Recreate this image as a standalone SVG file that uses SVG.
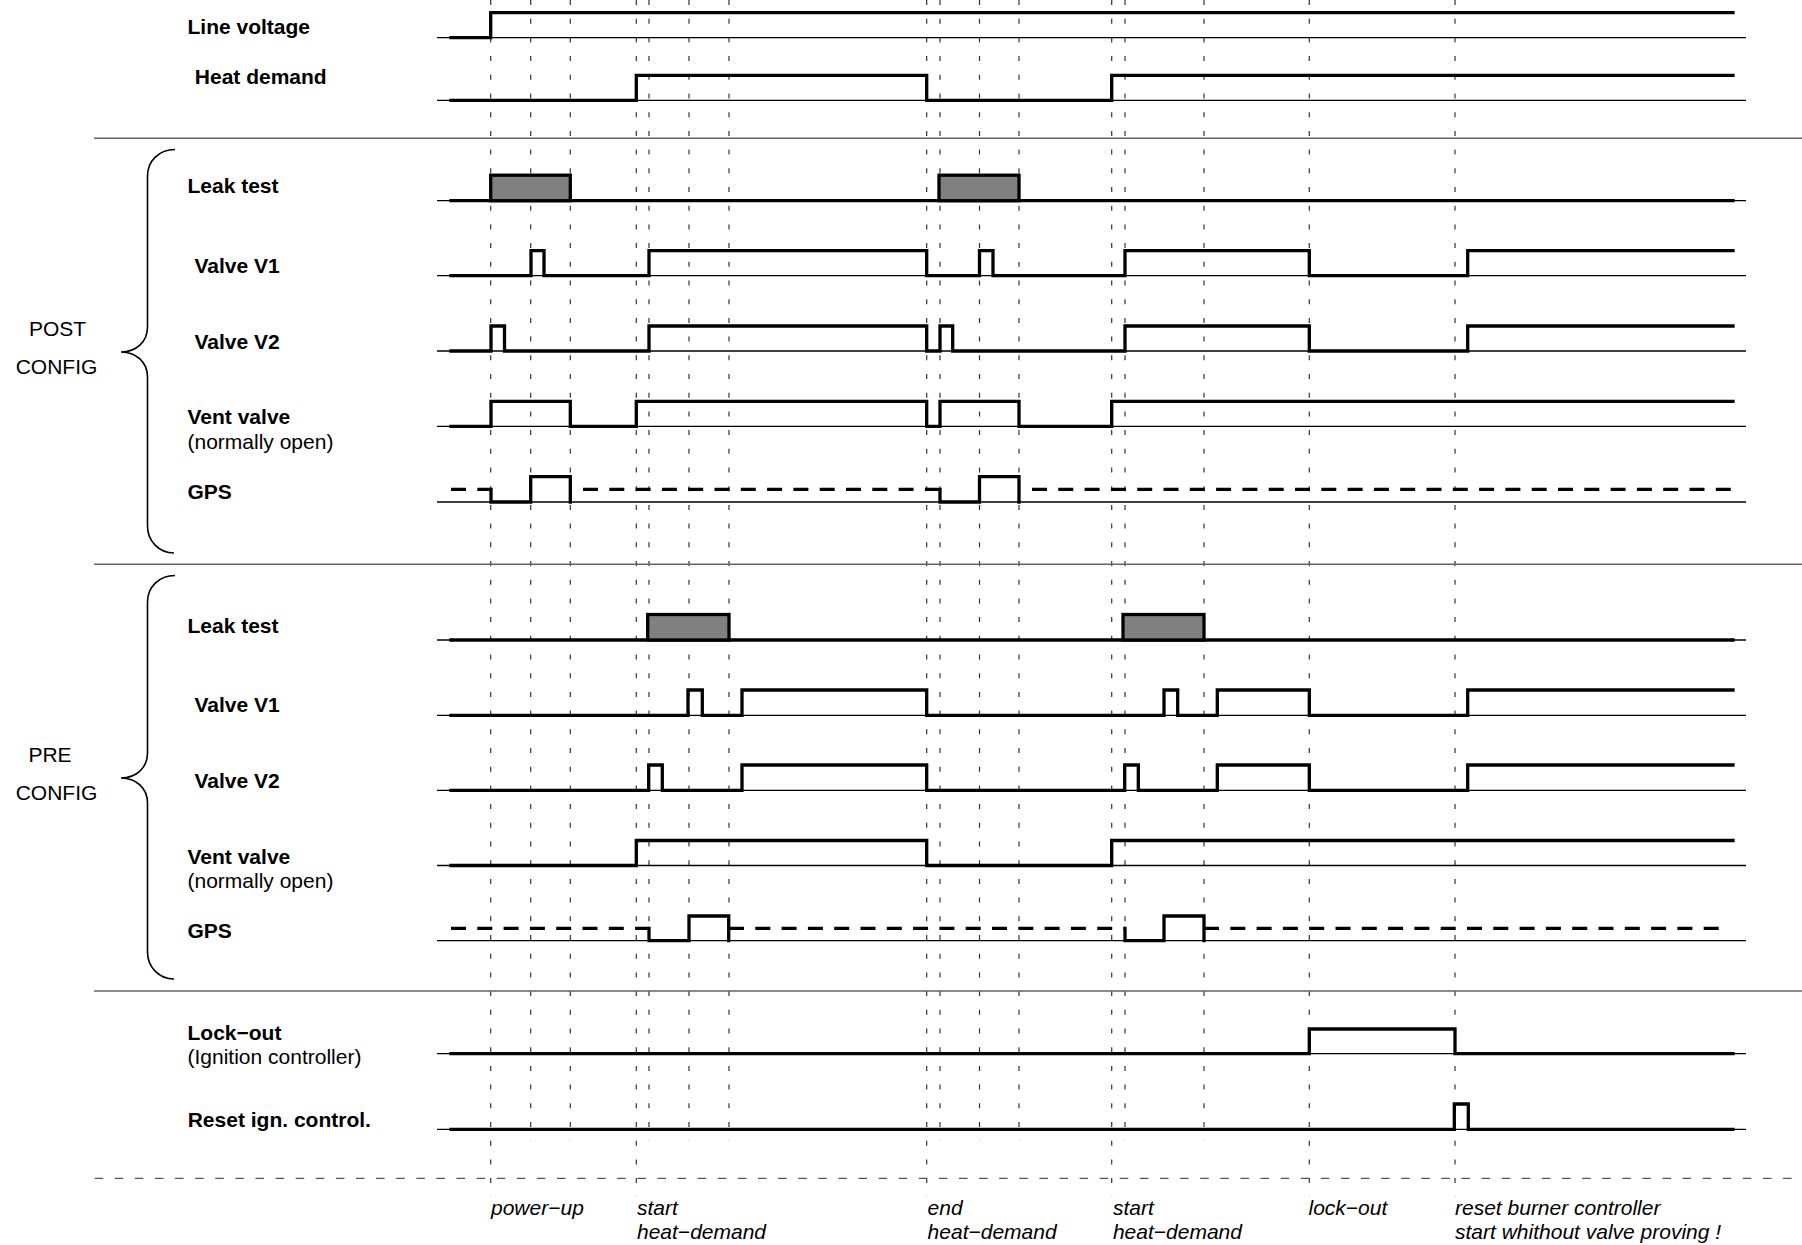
<svg xmlns="http://www.w3.org/2000/svg" width="1802" height="1245" viewBox="0 0 1802 1245">
<style>
text{font-family:"Liberation Sans",Arial,sans-serif;font-size:21px;fill:#000}
.b{font-weight:bold}
.i{font-style:italic}
.sig{fill:none;stroke:#000;stroke-width:3.3;stroke-linejoin:miter;stroke-linecap:square}
.base{fill:none;stroke:#000;stroke-width:1.3}
.undef{fill:none;stroke:#000;stroke-width:3.3;stroke-dasharray:15 11.3}
.leak{fill:#808080;stroke:#000;stroke-width:3.3}
.grid{fill:none;stroke:#333;stroke-width:1.2;stroke-dasharray:5 13.7}
.sep{fill:none;stroke:#666;stroke-width:1.4}
.sepd{fill:none;stroke:#555;stroke-width:1.3;stroke-dasharray:8.5 11.6}
.brace{fill:none;stroke:#000;stroke-width:1.6}
</style>

<g id="connectors">
  <g id="time-markers">
    <path class="grid" d="M490.7,0V1197M636.3,0V1197M926.7,0V1197M1111.7,0V1197M1309.3,0V1197M1455,0V1197"/>
    <path class="grid" d="M530.7,0V1141M570.3,0V1141M649,0V1141M689,0V1141M729,0V1141M940,0V1141M979.5,0V1141M1019,0V1141M1125,0V1141M1204,0V1141"/>
  </g>
  <g id="separators">
    <path class="sep" d="M94,138.3H1802M94,564.3H1802M94,991H1802"/>
    <path class="sepd" d="M94.7,1178.3H1802"/>
  </g>
</g>

<g id="line-voltage">
  <text class="b" x="187.5" y="34.3">Line voltage</text>
  <path class="base" d="M437,37.7H1746"/>
  <path class="sig" d="M451,37.7H490.7V12.7H1733"/>
</g>

<g id="heat-demand">
  <text class="b" x="194.8" y="84">Heat demand</text>
  <path class="base" d="M437,100.3H1746"/>
  <path class="sig" d="M451,100.3H636.3V75.3H926.7V100.3H1111.7V75.3H1733"/>
</g>

<g id="post-config">
  <path class="brace" d="M175,149.5C159,149.5 147.5,161 147.5,176V327C147.5,342 136,352 121,352C136,352 147.5,362 147.5,377V526C147.5,541 159,553 174,553"/>
  <text x="57.5" y="336" text-anchor="middle">POST</text>
  <text x="56.5" y="374" text-anchor="middle">CONFIG</text>
</g>

<g id="post-leak-test">
  <text class="b" x="187.5" y="193.3">Leak test</text>
  <path class="base" d="M437,200.7H1746"/>
  <path class="sig" d="M451,200.7H1733"/>
  <rect class="leak" x="490.7" y="175.2" width="79.6" height="25.5"/>
  <rect class="leak" x="939" y="175.2" width="80" height="25.5"/>
</g>

<g id="post-valve-v1">
  <text class="b" x="194.5" y="272.7">Valve V1</text>
  <path class="base" d="M437,275.7H1746"/>
  <path class="sig" d="M451,275.7H531V250.7H544V275.7H649V250.7H926.7V275.7H979.5V250.7H993V275.7H1125V250.7H1309.3V275.7H1467.7V250.7H1733"/>
</g>

<g id="post-valve-v2">
  <text class="b" x="194.5" y="349">Valve V2</text>
  <path class="base" d="M437,351H1746"/>
  <path class="sig" d="M451,351H491V326H504.5V351H649V326H926.7V351H940V326H952.7V351H1125V326H1309.3V351H1467.7V326H1733"/>
</g>

<g id="post-vent-valve">
  <text class="b" x="187.5" y="424.3">Vent valve</text>
  <text x="187.5" y="449">(normally open)</text>
  <path class="base" d="M437,426.3H1746"/>
  <path class="sig" d="M451,426.3H491V401.3H570.3V426.3H636.3V401.3H926.7V426.3H940V401.3H1019V426.3H1111.7V401.3H1733"/>
</g>

<g id="post-gps">
  <text class="b" x="187.5" y="499">GPS</text>
  <path class="base" d="M437,502H1746"/>
  <path class="undef" d="M451,489.3H491M583,489.3H926.7M1032,489.3H1733"/>
  <path class="sig" d="M491,489.3V502H530.7V476.7H570.3V502"/>
  <path class="sig" d="M926.7,489.3H940V502H979.5V476.7H1019V502"/>
</g>

<g id="pre-config">
  <path class="brace" d="M175,575.5C159,575.5 147.5,587 147.5,602V753C147.5,768 136,778 121,778C136,778 147.5,788 147.5,803V952C147.5,967 159,979 174,979"/>
  <text x="50" y="762" text-anchor="middle">PRE</text>
  <text x="56.5" y="800" text-anchor="middle">CONFIG</text>
</g>

<g id="pre-leak-test">
  <text class="b" x="187.5" y="632.6">Leak test</text>
  <path class="base" d="M437,640H1746"/>
  <path class="sig" d="M451,640H1733"/>
  <rect class="leak" x="647.7" y="614.5" width="81.3" height="25.5"/>
  <rect class="leak" x="1123" y="614.5" width="81" height="25.5"/>
</g>

<g id="pre-valve-v1">
  <text class="b" x="194.5" y="712.3">Valve V1</text>
  <path class="base" d="M437,715.3H1746"/>
  <path class="sig" d="M451,715.3H688V690H702.3V715.3H742V690H926.7V715.3H1164V690H1177.7V715.3H1217.3V690H1309.3V715.3H1467.7V690H1733"/>
</g>

<g id="pre-valve-v2">
  <text class="b" x="194.5" y="788.3">Valve V2</text>
  <path class="base" d="M437,790.3H1746"/>
  <path class="sig" d="M451,790.3H648.7V765H662.3V790.3H742V765H926.7V790.3H1124.7V765H1138.3V790.3H1217.3V765H1309.3V790.3H1467.7V765H1733"/>
</g>

<g id="pre-vent-valve">
  <text class="b" x="187.5" y="863.5">Vent valve</text>
  <text x="187.5" y="888.2">(normally open)</text>
  <path class="base" d="M437,865.5H1746"/>
  <path class="sig" d="M451,865.5H636.3V840.5H926.7V865.5H1111.7V840.5H1733"/>
</g>

<g id="pre-gps">
  <text class="b" x="187.5" y="937.7">GPS</text>
  <path class="base" d="M437,940.7H1746"/>
  <path class="undef" d="M451,928.3H649M729,928.3H1125M1204,928.3H1720"/>
  <path class="sig" d="M649,928.3V940.7H689V916H728.7V940.7"/>
  <path class="sig" d="M1125,928.3V940.7H1164V916H1204V940.7"/>
</g>

<g id="lock-out">
  <text class="b" x="187.5" y="1039.5">Lock−out</text>
  <text x="187.5" y="1064">(Ignition controller)</text>
  <path class="base" d="M437,1053.7H1746"/>
  <path class="sig" d="M451,1053.7H1309.3V1029H1455V1053.7H1733"/>
</g>

<g id="reset-ign-control">
  <text class="b" x="187.7" y="1126.7">Reset ign. control.</text>
  <path class="base" d="M437,1129.3H1746"/>
  <path class="sig" d="M451,1129.3H1454.3V1104H1468.3V1129.3H1733"/>
</g>

<g id="events">
  <text class="i" x="491" y="1215">power−up</text>
  <text class="i" x="637" y="1215">start</text>
  <text class="i" x="637" y="1239">heat−demand</text>
  <text class="i" x="927.6" y="1215">end</text>
  <text class="i" x="927.6" y="1239">heat−demand</text>
  <text class="i" x="1112.9" y="1215">start</text>
  <text class="i" x="1112.9" y="1239">heat−demand</text>
  <text class="i" x="1308.5" y="1215">lock−out</text>
  <text class="i" x="1455" y="1215">reset burner controller</text>
  <text class="i" x="1455" y="1239">start whithout valve proving !</text>
</g>
</svg>
